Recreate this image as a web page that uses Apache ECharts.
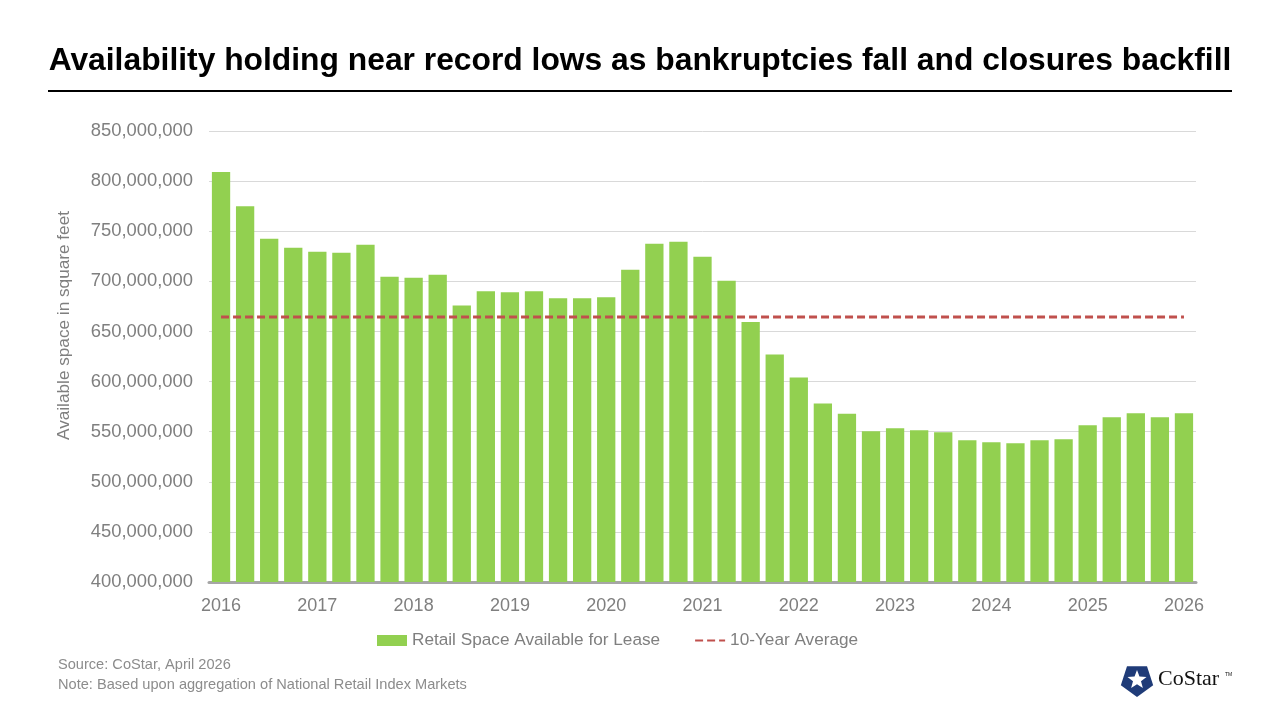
<!DOCTYPE html>
<html>
<head>
<meta charset="utf-8">
<script src="https://cdn.jsdelivr.net/npm/echarts@6/dist/echarts.min.js"></script>
<style>
  html, body { margin: 0; padding: 0; background: #fff; }
  #chart { width: 1280px; height: 720px; }
</style>
</head>
<body>
<div id="chart"></div>
<script>
// quarterly categories, labelled by year every 4th bar
const quarters = [
  '2016 Q1', '2016 Q2', '2016 Q3', '2016 Q4',
  '2017 Q1', '2017 Q2', '2017 Q3', '2017 Q4',
  '2018 Q1', '2018 Q2', '2018 Q3', '2018 Q4',
  '2019 Q1', '2019 Q2', '2019 Q3', '2019 Q4',
  '2020 Q1', '2020 Q2', '2020 Q3', '2020 Q4',
  '2021 Q1', '2021 Q2', '2021 Q3', '2021 Q4',
  '2022 Q1', '2022 Q2', '2022 Q3', '2022 Q4',
  '2023 Q1', '2023 Q2', '2023 Q3', '2023 Q4',
  '2024 Q1', '2024 Q2', '2024 Q3', '2024 Q4',
  '2025 Q1', '2025 Q2', '2025 Q3', '2025 Q4',
  '2026 Q1'
]

// available retail space, square feet
const availableSpace = [
  809000000, 775000000, 742500000, 733500000,
  729500000, 728500000, 736500000, 704500000,
  703500000, 706500000, 676000000, 690000000,
  689000000, 690000000, 683000000, 683000000,
  684000000, 711500000, 737500000, 739500000,
  724500000, 700500000, 659500000, 627000000,
  604000000, 578000000, 568000000, 550500000,
  553500000, 551500000, 549500000, 541500000,
  539500000, 538500000, 541500000, 542500000,
  556500000, 564500000, 568500000, 564500000,
  568500000
]

const tenYearAverage = 664500000
const averageLine = quarters.map(() => tenYearAverage)

const yTicks = { min: 400000000, max: 850000000, interval: 50000000 }

const grey = '#7f7f7f'
const font = 'Liberation Sans, Arial, sans-serif'

const myChart = echarts.init(document.getElementById('chart'))

// little CoStar mark: navy pentagon with a white star cut out
const logoCx = 1137
const logoCy = 680
const pent = []
const star = []
for (let i = 0; i < 5; i++) {
  const a = -Math.PI / 2 + i * 2 * Math.PI / 5 + Math.PI / 5
  pent.push([logoCx + 17 * Math.cos(a), logoCy + 17 * Math.sin(a)])
}
for (let i = 0; i < 10; i++) {
  const a = -Math.PI / 2 + i * Math.PI / 5
  const r = i % 2 === 0 ? 10 : 4.2
  star.push([logoCx + r * Math.cos(a), logoCy + r * Math.sin(a)])
}

const option = {
  backgroundColor: '#fff',
  animation: false,
  textStyle: { fontFamily: font },
  title: {
    text: 'Availability holding near record lows as bankruptcies fall and closures backfill',
    left: 'center',
    top: 40,
    textStyle: { fontSize: 31.8, fontWeight: 'bold', color: '#000', fontFamily: font }
  },
  legend: {
    left: 372,
    top: 627,
    itemWidth: 30,
    itemHeight: 11,
    itemGap: 34,
    textStyle: { fontSize: 17.2, color: grey, fontFamily: font },
    data: [
      { name: 'Retail Space Available for Lease', icon: 'rect' },
      { name: '10-Year Average', itemStyle: { opacity: 0 } }
    ]
  },
  grid: { left: 209, right: 84, top: 131, bottom: 138, containLabel: false },
  xAxis: [
    {
      type: 'category',
      data: quarters,
      boundaryGap: true,
      axisLine: { lineStyle: { color: '#a6a6a6', width: 3 } },
      axisTick: { interval: 3, length: 6, lineStyle: { color: '#a6a6a6', width: 2 } },
      axisLabel: {
        interval: 3,
        margin: 15,
        fontSize: 18,
        color: grey,
        fontFamily: font,
        formatter: (v) => v.slice(0, 4)
      }
    },
    {
      // minor ticks at mid-year
      type: 'category',
      data: quarters,
      position: 'bottom',
      boundaryGap: true,
      axisLine: { show: false },
      axisTick: { interval: 1, inside: true, length: 3, lineStyle: { color: '#a6a6a6', width: 2 } },
      axisLabel: { show: false }
    }
  ],
  yAxis: {
    type: 'value',
    min: yTicks.min,
    max: yTicks.max,
    interval: yTicks.interval,
    name: 'Available space in square feet',
    nameLocation: 'middle',
    nameGap: 136,
    nameTextStyle: { fontSize: 17.2, color: grey, fontFamily: font, padding: [0, 0, 0, 62] },
    axisLine: { show: false },
    axisTick: { show: false },
    splitLine: { lineStyle: { color: '#d9d9d9', width: 1 } },
    axisLabel: {
      margin: 16,
      fontSize: 18.4,
      color: grey,
      fontFamily: font,
      formatter: (v) => v.toLocaleString('en-US')
    }
  },
  series: [
    {
      name: 'Retail Space Available for Lease',
      type: 'bar',
      data: availableSpace,
      barCategoryGap: '24%',
      itemStyle: { color: '#92d050' }
    },
    {
      name: '10-Year Average',
      type: 'line',
      data: averageLine,
      symbol: 'none',
      z: 5,
      lineStyle: { color: '#c0504d', width: 3, type: [8, 4] },
      itemStyle: { color: '#c0504d' }
    }
  ],
  graphic: [
    {
      type: 'line',
      shape: { x1: 48, y1: 91, x2: 1232, y2: 91 },
      style: { stroke: '#000', lineWidth: 2 }
    },
    {
      type: 'text',
      left: 58,
      top: 657,
      style: { text: 'Source: CoStar, April 2026', fontSize: 14.6, fill: '#8c8c8c', fontFamily: font }
    },
    {
      type: 'text',
      left: 58,
      top: 677,
      style: { text: 'Note: Based upon aggregation of National Retail Index Markets', fontSize: 14.6, fill: '#8c8c8c', fontFamily: font }
    },
    {
      type: 'polygon',
      shape: { points: pent },
      style: { fill: '#1f3b78' }
    },
    {
      type: 'polygon',
      shape: { points: star },
      style: { fill: '#fff' }
    },
    {
      type: 'text',
      left: 1158,
      top: 668,
      style: { text: 'CoStar', fontSize: 22, fill: '#111', fontFamily: 'Liberation Serif, DejaVu Serif, serif' }
    },
    {
      type: 'text',
      left: 1225,
      top: 672,
      style: { text: 'TM', fontSize: 5, fill: '#111', fontFamily: font }
    }
  ]
}

myChart.setOption(option)
window.addEventListener('resize', () => {
  myChart.resize()
})
</script>
</body>
</html>
